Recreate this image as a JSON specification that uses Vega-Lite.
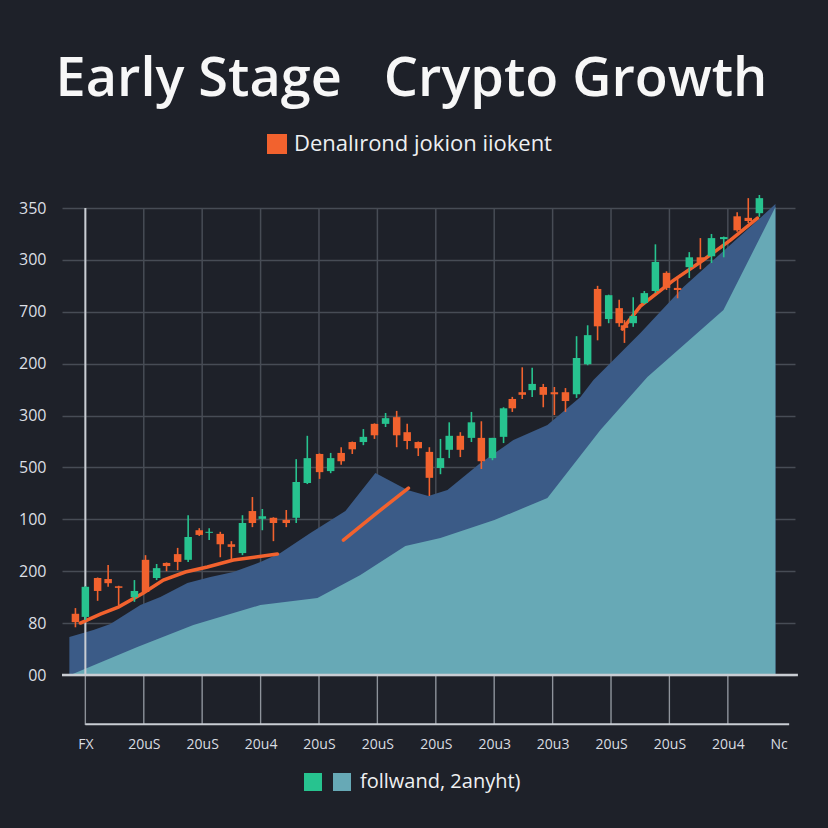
{
  "$schema": "https://vega.github.io/schema/vega-lite/v6.json",
  "width": 733,
  "height": 517,
  "autosize": {"type": "none"},
  "padding": {"left": 62, "top": 208, "right": 33, "bottom": 103},
  "background": "#1e2129",
  "title": {
    "text": "Early Stage\u00a0\u00a0 Crypto Growth",
    "font": "Open Sans",
    "fontSize": 54,
    "fontWeight": 600,
    "color": "#f7f7f7",
    "anchor": "middle",
    "dx": -17,
    "offset": 26
  },
  "config": {
    "view": {"stroke": null},
    "legend": {"padding": 0}
  },
  "datasets": {
    "grid": [{"gx": 0}, {"gx": 1}, {"gx": 2}, {"gx": 3}, {"gx": 4}, {"gx": 5}, {"gx": 6}, {"gx": 7}, {"gx": 8}, {"gx": 9}, {"gx": 10}, {"gx": 11}],
    "area1": [
      {"x": -0.274, "y": 0.732}, {"x": 0.137, "y": 0.867}, {"x": 0.428, "y": 0.983}, {"x": 0.942, "y": 1.349},
      {"x": 1.284, "y": 1.503}, {"x": 1.747, "y": 1.773}, {"x": 2.140, "y": 1.888}, {"x": 2.534, "y": 1.985},
      {"x": 2.997, "y": 2.177}, {"x": 3.339, "y": 2.351}, {"x": 3.853, "y": 2.736}, {"x": 4.452, "y": 3.160},
      {"x": 4.966, "y": 3.892}, {"x": 5.514, "y": 3.565}, {"x": 5.873, "y": 3.449}, {"x": 6.199, "y": 3.565},
      {"x": 6.764, "y": 4.085}, {"x": 7.329, "y": 4.528}, {"x": 7.911, "y": 4.817}, {"x": 8.476, "y": 5.356},
      {"x": 8.699, "y": 5.684}, {"x": 9.503, "y": 6.590}, {"x": 10.240, "y": 7.476}, {"x": 11.815, "y": 9.075}
    ],
    "area2": [
      {"x": -0.257, "y": 0.0}, {"x": 0.890, "y": 0.539}, {"x": 1.849, "y": 0.963}, {"x": 2.997, "y": 1.349},
      {"x": 3.973, "y": 1.484}, {"x": 4.709, "y": 1.927}, {"x": 5.479, "y": 2.486}, {"x": 6.079, "y": 2.640},
      {"x": 7.003, "y": 2.987}, {"x": 7.911, "y": 3.410}, {"x": 8.818, "y": 4.721}, {"x": 9.623, "y": 5.742},
      {"x": 10.925, "y": 7.033}, {"x": 11.815, "y": 9.017}
    ],
    "trend": [
      {"seg": "A", "x": -0.086, "y": 1.002}, {"seg": "A", "x": 0.257, "y": 1.175}, {"seg": "A", "x": 0.565, "y": 1.310},
      {"seg": "A", "x": 0.993, "y": 1.580}, {"seg": "A", "x": 1.336, "y": 1.830}, {"seg": "A", "x": 1.712, "y": 1.985},
      {"seg": "A", "x": 2.089, "y": 2.081}, {"seg": "A", "x": 2.534, "y": 2.216}, {"seg": "A", "x": 3.288, "y": 2.331},
      {"seg": "B", "x": 4.418, "y": 2.601}, {"seg": "B", "x": 4.966, "y": 3.102}, {"seg": "B", "x": 5.531, "y": 3.603},
      {"seg": "D", "x": 9.195, "y": 6.667}, {"seg": "D", "x": 9.503, "y": 7.110}, {"seg": "D", "x": 10.051, "y": 7.592},
      {"seg": "D", "x": 10.531, "y": 7.958}, {"seg": "D", "x": 11.045, "y": 8.382}, {"seg": "D", "x": 11.507, "y": 8.805}
    ],
    "candles": [
      {"x": -0.17, "dir": "down", "o": 1.18, "c": 1.02, "h": 1.29, "l": 0.92},
      {"x": 0.00, "dir": "up", "o": 1.12, "c": 1.70, "h": 1.71, "l": 1.06},
      {"x": 0.21, "dir": "down", "o": 1.87, "c": 1.62, "h": 1.88, "l": 1.43},
      {"x": 0.39, "dir": "down", "o": 1.85, "c": 1.77, "h": 2.12, "l": 1.70},
      {"x": 0.57, "dir": "down", "o": 1.71, "c": 1.68, "h": 1.72, "l": 1.35},
      {"x": 0.84, "dir": "up", "o": 1.50, "c": 1.62, "h": 1.83, "l": 1.41},
      {"x": 1.03, "dir": "down", "o": 2.22, "c": 1.60, "h": 2.31, "l": 1.58},
      {"x": 1.22, "dir": "up", "o": 1.87, "c": 2.06, "h": 2.14, "l": 1.83},
      {"x": 1.39, "dir": "down", "o": 2.16, "c": 2.10, "h": 2.17, "l": 2.00},
      {"x": 1.58, "dir": "down", "o": 2.33, "c": 2.18, "h": 2.45, "l": 2.02},
      {"x": 1.76, "dir": "up", "o": 2.22, "c": 2.66, "h": 3.08, "l": 2.18},
      {"x": 1.95, "dir": "down", "o": 2.79, "c": 2.70, "h": 2.83, "l": 2.68},
      {"x": 2.12, "dir": "up", "o": 2.74, "c": 2.76, "h": 2.83, "l": 2.60},
      {"x": 2.31, "dir": "down", "o": 2.72, "c": 2.52, "h": 2.76, "l": 2.27},
      {"x": 2.50, "dir": "down", "o": 2.52, "c": 2.47, "h": 2.58, "l": 2.20},
      {"x": 2.69, "dir": "up", "o": 2.35, "c": 2.93, "h": 3.08, "l": 2.31},
      {"x": 2.86, "dir": "down", "o": 3.16, "c": 2.93, "h": 3.43, "l": 2.85},
      {"x": 3.03, "dir": "up", "o": 3.01, "c": 3.06, "h": 3.20, "l": 2.79},
      {"x": 3.22, "dir": "down", "o": 3.03, "c": 2.93, "h": 3.04, "l": 2.58},
      {"x": 3.44, "dir": "down", "o": 2.99, "c": 2.93, "h": 3.18, "l": 2.85},
      {"x": 3.61, "dir": "up", "o": 3.03, "c": 3.72, "h": 4.16, "l": 2.93},
      {"x": 3.80, "dir": "up", "o": 3.70, "c": 4.18, "h": 4.61, "l": 3.68},
      {"x": 4.01, "dir": "down", "o": 4.26, "c": 3.91, "h": 4.27, "l": 3.78},
      {"x": 4.20, "dir": "up", "o": 3.93, "c": 4.18, "h": 4.28, "l": 3.89},
      {"x": 4.38, "dir": "down", "o": 4.28, "c": 4.12, "h": 4.39, "l": 4.05},
      {"x": 4.57, "dir": "down", "o": 4.49, "c": 4.35, "h": 4.50, "l": 4.26},
      {"x": 4.76, "dir": "up", "o": 4.49, "c": 4.59, "h": 4.74, "l": 4.43},
      {"x": 4.95, "dir": "down", "o": 4.84, "c": 4.62, "h": 4.85, "l": 4.55},
      {"x": 5.14, "dir": "up", "o": 4.84, "c": 4.95, "h": 5.05, "l": 4.78},
      {"x": 5.33, "dir": "down", "o": 4.97, "c": 4.62, "h": 5.09, "l": 4.39},
      {"x": 5.51, "dir": "down", "o": 4.68, "c": 4.51, "h": 4.84, "l": 4.35},
      {"x": 5.70, "dir": "down", "o": 4.49, "c": 4.37, "h": 4.50, "l": 4.22},
      {"x": 5.89, "dir": "down", "o": 4.30, "c": 3.80, "h": 4.39, "l": 3.45},
      {"x": 6.08, "dir": "up", "o": 3.99, "c": 4.18, "h": 4.55, "l": 3.87},
      {"x": 6.23, "dir": "up", "o": 4.34, "c": 4.61, "h": 4.87, "l": 4.18},
      {"x": 6.42, "dir": "down", "o": 4.61, "c": 4.34, "h": 4.68, "l": 4.20},
      {"x": 6.61, "dir": "up", "o": 4.57, "c": 4.87, "h": 5.07, "l": 4.49},
      {"x": 6.78, "dir": "down", "o": 4.57, "c": 4.12, "h": 4.89, "l": 3.97},
      {"x": 6.97, "dir": "up", "o": 4.18, "c": 4.57, "h": 4.57, "l": 4.14},
      {"x": 7.16, "dir": "up", "o": 4.59, "c": 5.14, "h": 5.16, "l": 4.47},
      {"x": 7.31, "dir": "down", "o": 5.32, "c": 5.14, "h": 5.36, "l": 5.07},
      {"x": 7.48, "dir": "down", "o": 5.45, "c": 5.40, "h": 5.93, "l": 5.32},
      {"x": 7.65, "dir": "up", "o": 5.49, "c": 5.61, "h": 5.92, "l": 5.36},
      {"x": 7.84, "dir": "down", "o": 5.55, "c": 5.40, "h": 5.61, "l": 5.16},
      {"x": 8.03, "dir": "down", "o": 5.45, "c": 5.41, "h": 5.55, "l": 5.01},
      {"x": 8.22, "dir": "down", "o": 5.45, "c": 5.28, "h": 5.53, "l": 5.07},
      {"x": 8.41, "dir": "up", "o": 5.41, "c": 6.11, "h": 6.53, "l": 5.34},
      {"x": 8.60, "dir": "up", "o": 5.99, "c": 6.55, "h": 6.74, "l": 5.97},
      {"x": 8.77, "dir": "down", "o": 7.44, "c": 6.72, "h": 7.50, "l": 6.45},
      {"x": 8.96, "dir": "up", "o": 6.86, "c": 7.32, "h": 7.33, "l": 6.78},
      {"x": 9.14, "dir": "down", "o": 7.07, "c": 6.78, "h": 7.23, "l": 6.71},
      {"x": 9.23, "dir": "down", "o": 6.74, "c": 6.69, "h": 6.84, "l": 6.40},
      {"x": 9.38, "dir": "up", "o": 6.78, "c": 6.92, "h": 7.28, "l": 6.71},
      {"x": 9.57, "dir": "up", "o": 7.17, "c": 7.36, "h": 7.40, "l": 7.15},
      {"x": 9.76, "dir": "up", "o": 7.40, "c": 7.96, "h": 8.30, "l": 7.36},
      {"x": 9.95, "dir": "down", "o": 7.75, "c": 7.46, "h": 7.78, "l": 7.42},
      {"x": 10.14, "dir": "down", "o": 7.46, "c": 7.42, "h": 7.65, "l": 7.26},
      {"x": 10.34, "dir": "up", "o": 7.86, "c": 8.05, "h": 8.15, "l": 7.65},
      {"x": 10.53, "dir": "down", "o": 8.05, "c": 7.96, "h": 8.42, "l": 7.82},
      {"x": 10.72, "dir": "up", "o": 8.07, "c": 8.42, "h": 8.50, "l": 7.94},
      {"x": 10.93, "dir": "up", "o": 8.40, "c": 8.44, "h": 8.45, "l": 8.05},
      {"x": 11.16, "dir": "down", "o": 8.84, "c": 8.57, "h": 8.92, "l": 8.54},
      {"x": 11.35, "dir": "down", "o": 8.81, "c": 8.75, "h": 9.19, "l": 8.71},
      {"x": 11.54, "dir": "up", "o": 8.90, "c": 9.19, "h": 9.25, "l": 8.83}
    ]
  },
  "layer": [
    {
      "data": {"name": "grid"},
      "mark": {"type": "rule", "color": "#474c55", "strokeWidth": 1.5},
      "encoding": {
        "x": {
          "field": "gx", "type": "quantitative",
          "scale": {"domain": [-0.4, 12.15], "nice": false, "zero": false, "padding": 0},
          "axis": {
            "title": null,
            "values": [0, 1, 2, 3, 4, 5, 6, 7, 8, 9, 10, 11, 11.87],
            "labelExpr": "datum.value > 11.5 ? 'Nc' : ['FX','20uS','20uS','20u4','20uS','20uS','20uS','20u3','20u3','20uS','20uS','20u4'][datum.value]",
            "grid": false, "ticks": false, "tickSize": 0, "domain": false,
            "labelColor": "#d9dce1", "labelFont": "Open Sans", "labelFontSize": 14,
            "labelPadding": 12, "labelOverlap": false, "labelFlush": false
          }
        },
        "y": {
          "datum": -0.963, "type": "quantitative",
          "scale": {"domain": [-0.963, 9], "nice": false, "zero": false, "padding": 0},
          "axis": {
            "title": null,
            "values": [0, 1, 2, 3, 4, 5, 6, 7, 8, 9],
            "labelExpr": "['00','80','200','100','500','300','200','700','300','350'][datum.value]",
            "grid": true, "gridColor": "#474c55", "gridWidth": 1.5,
            "ticks": false, "tickSize": 0, "domain": false,
            "labelColor": "#dcdfe4", "labelFont": "Open Sans", "labelFontSize": 16,
            "labelFontWeight": 500,
            "labelPadding": 16
          }
        },
        "y2": {"datum": 9}
      }
    },
    {
      "data": {"name": "grid"},
      "mark": {"type": "rule", "color": "#8f949c", "strokeWidth": 1.2},
      "encoding": {
        "x": {"field": "gx", "type": "quantitative"},
        "y": {"datum": -0.963, "type": "quantitative"},
        "y2": {"datum": 0}
      }
    },
    {
      "data": {"name": "area1"},
      "mark": {"type": "area", "color": "#3b5b87", "opacity": 1},
      "encoding": {
        "x": {"field": "x", "type": "quantitative"},
        "y": {"field": "y", "type": "quantitative"},
        "y2": {"datum": 0}
      }
    },
    {
      "data": {"name": "area2"},
      "mark": {"type": "area"},
      "encoding": {
        "x": {"field": "x", "type": "quantitative"},
        "y": {"field": "y", "type": "quantitative"},
        "y2": {"datum": 0},
        "fill": {"datum": "area"}
      }
    },
    {
      "data": {"values": [{}]},
      "mark": {"type": "rule", "color": "#c9cdd3", "strokeWidth": 2.5},
      "encoding": {
        "x": {"datum": -0.4, "type": "quantitative"},
        "x2": {"datum": 12.2},
        "y": {"datum": 0, "type": "quantitative"}
      }
    },
    {
      "data": {"values": [{}]},
      "mark": {"type": "rule", "color": "#c9cdd3", "strokeWidth": 2},
      "encoding": {
        "x": {"datum": 0, "type": "quantitative"},
        "y": {"datum": 0, "type": "quantitative"},
        "y2": {"datum": 9}
      }
    },
    {
      "data": {"values": [{}]},
      "mark": {"type": "rule", "color": "#c9cdd3", "strokeWidth": 2},
      "encoding": {
        "x": {"datum": 0, "type": "quantitative"},
        "x2": {"datum": 12.05},
        "y": {"datum": -0.95, "type": "quantitative"}
      }
    },
    {
      "data": {"name": "trend"},
      "mark": {"type": "line", "strokeWidth": 3.5, "strokeCap": "round"},
      "encoding": {
        "x": {"field": "x", "type": "quantitative"},
        "y": {"field": "y", "type": "quantitative"},
        "detail": {"field": "seg"},
        "stroke": {
          "datum": "Denalırond jokion iiokent",
          "scale": {"range": ["#f2622e"]},
          "legend": {
            "orient": "none", "legendX": 204, "legendY": -75,
            "direction": "horizontal", "title": null,
            "symbolType": "square", "symbolSize": 400,
            "symbolFillColor": "#f2622e", "symbolStrokeWidth": 0,
            "labelColor": "#eef0f2", "labelFont": "Open Sans", "labelFontSize": 22,
            "labelOffset": 6, "labelLimit": 400
          }
        }
      }
    },
    {
      "data": {"name": "candles"},
      "mark": {"type": "rule", "strokeWidth": 1.6},
      "encoding": {
        "x": {"field": "x", "type": "quantitative"},
        "y": {"field": "l", "type": "quantitative"},
        "y2": {"field": "h"},
        "stroke": {"condition": {"test": "datum.dir == 'up'", "value": "#27c38f"}, "value": "#f2622e"}
      }
    },
    {
      "data": {"name": "candles"},
      "mark": {"type": "bar", "width": 7.5},
      "encoding": {
        "x": {"field": "x", "type": "quantitative"},
        "y": {"field": "o", "type": "quantitative"},
        "y2": {"field": "c"},
        "fill": {
          "field": "dir",
          "scale": {"domain": ["up", "area", "down"], "range": ["#27c38f", "#67a9b6", "#f2622e"]},
          "legend": {
            "orient": "none", "legendX": 241, "legendY": 564,
            "direction": "horizontal", "title": null,
            "values": ["up", "area"],
            "labelExpr": "datum.value == 'area' ? 'follwand, 2anyht)' : ''",
            "symbolType": "square", "symbolSize": 324, "symbolStrokeWidth": 0,
            "columnPadding": 1,
            "labelColor": "#eef0f2", "labelFont": "Open Sans", "labelFontSize": 20,
            "labelOffset": 8, "labelLimit": 400
          }
        }
      }
    }
  ]
}
